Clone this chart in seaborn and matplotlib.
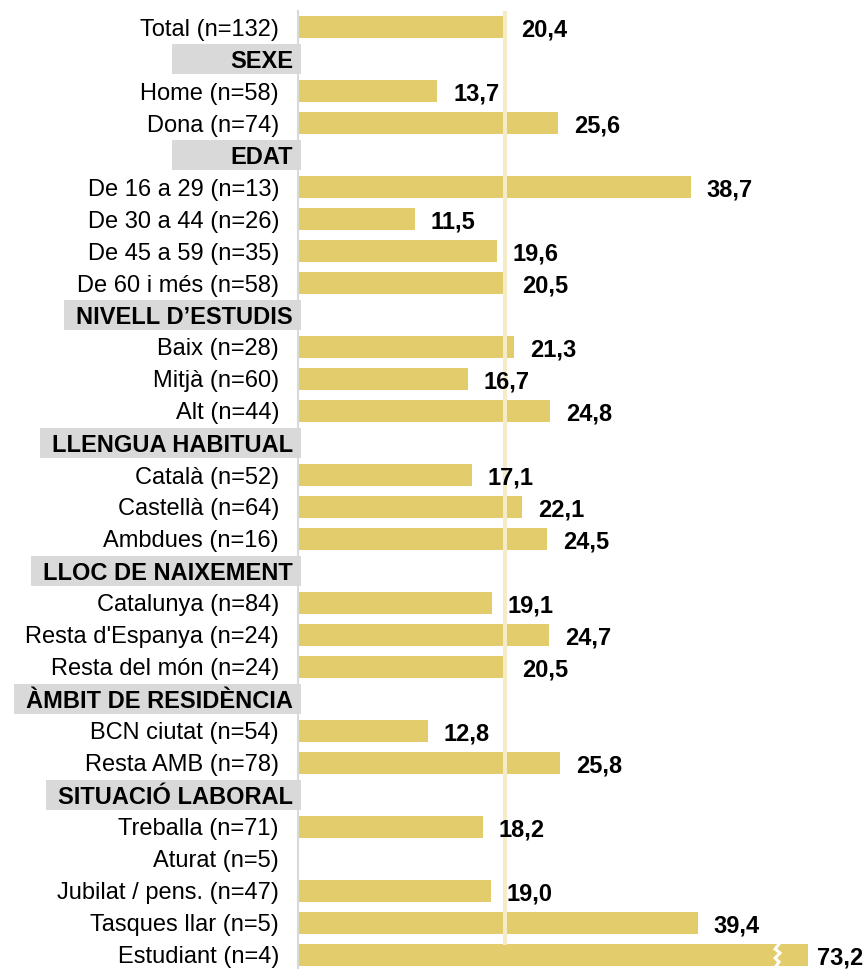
import numpy as np
import pandas as pd
import matplotlib
matplotlib.use("Agg")
import matplotlib.pyplot as plt
import matplotlib.transforms as mtransforms
from matplotlib.patches import Rectangle
import seaborn as sns

# ---------------- data ----------------
labels = [
    "Total (n=132)",
    "SEXE", "Home (n=58)", "Dona (n=74)",
    "EDAT", "De 16 a 29 (n=13)", "De 30 a 44 (n=26)", "De 45 a 59 (n=35)", "De 60 i més (n=58)",
    "NIVELL D’ESTUDIS", "Baix (n=28)", "Mitjà (n=60)", "Alt (n=44)",
    "LLENGUA HABITUAL", "Català (n=52)", "Castellà (n=64)", "Ambdues (n=16)",
    "LLOC DE NAIXEMENT", "Catalunya (n=84)", "Resta d'Espanya (n=24)", "Resta del món (n=24)",
    "ÀMBIT DE RESIDÈNCIA", "BCN ciutat (n=54)", "Resta AMB (n=78)",
    "SITUACIÓ LABORAL", "Treballa (n=71)", "Aturat (n=5)", "Jubilat / pens. (n=47)",
    "Tasques llar (n=5)", "Estudiant (n=4)",
]
values = [
    20.4,
    np.nan, 13.7, 25.6,
    np.nan, 38.7, 11.5, 19.6, 20.5,
    np.nan, 21.3, 16.7, 24.8,
    np.nan, 17.1, 22.1, 24.5,
    np.nan, 19.1, 24.7, 20.5,
    np.nan, 12.8, 25.8,
    np.nan, 18.2, np.nan, 19.0,
    39.4, 73.2,
]
headers = ["SEXE", "EDAT", "NIVELL D’ESTUDIS", "LLENGUA HABITUAL",
           "LLOC DE NAIXEMENT", "ÀMBIT DE RESIDÈNCIA", "SITUACIÓ LABORAL"]
reference_value = values[0]

# ---------------- style ----------------
W, H, DPI = 866, 969, 100
BAR_COLOR = "#E3CC6B"
REF_COLOR = "#F5EBC6"
GRAY = "#D9D9D9"
FONT = "Liberation Sans"
FS = 17
CAP = 50.2          # displayed length of broken bar
BREAK_AT = 47.2     # position of the break mark
XMAX = 55.96

plt.rcParams["font.family"] = [FONT, "DejaVu Sans"]

df = pd.DataFrame({"label": labels, "value": values})
df["shown"] = df["value"].clip(upper=CAP)

fig = plt.figure(figsize=(W / DPI, H / DPI), dpi=DPI)
ax_left_px, ax_top_px = 298, 11
ax = fig.add_axes([ax_left_px / W, 0, 1 - ax_left_px / W, (H - ax_top_px) / H])
ax.set_facecolor("none")

sns.barplot(data=df, x="shown", y="label", order=labels, orient="h",
            color=BAR_COLOR, saturation=1, width=0.69, errorbar=None, ax=ax, zorder=1)

ax.set_xlim(0, XMAX)
row_px = 32.0
ax.set_ylim(-0.5 + (H - ax_top_px) / row_px, -0.5)
ax.set_xlabel("")
ax.set_ylabel("")
ax.set_xticks([])
ax.set_yticks([])
for s in ["top", "right", "bottom"]:
    ax.spines[s].set_visible(False)
ax.spines["left"].set_color(GRAY)
ax.spines["left"].set_linewidth(1.5)

# reference line at total value
ax.vlines(reference_value, -0.5, 28.7, color=REF_COLOR, lw=2.9, zorder=3)

blend = mtransforms.blended_transform_factory(ax.transAxes, ax.transData)
lab_tr = mtransforms.offset_copy(blend, fig=fig, x=-19, y=0, units="dots")
hdr_tr = mtransforms.offset_copy(blend, fig=fig, x=-5, y=0, units="dots")

header_texts = []
for i, (lab, v) in enumerate(zip(labels, values)):
    if lab in headers:
        t = ax.text(0, i, lab, transform=hdr_tr, ha="right", va="center_baseline",
                    fontsize=FS, fontweight="bold", zorder=6, clip_on=False)
        header_texts.append((i, t))
    else:
        ax.text(0, i, lab, transform=lab_tr, ha="right", va="center_baseline",
                fontsize=FS, zorder=6, clip_on=False)
        if not np.isnan(v):
            shown = min(v, CAP)
            off = 9 if v > CAP else 16
            vt = mtransforms.offset_copy(ax.transData, fig=fig, x=off, y=0, units="dots")
            ax.text(shown, i, f"{v:.1f}".replace(".", ","), transform=vt,
                    ha="left", va="center_baseline", fontsize=FS, fontweight="bold",
                    zorder=6, clip_on=False)
            if v > CAP:
                px = XMAX / (W - ax_left_px)
                zx = np.array([2, -2, 3, -2, 2, -1]) * px + BREAK_AT
                zy = np.array([-11, -6, -2, 3, 7, 11]) / row_px + i
                ax.plot(zx, zy, color="white", lw=2.2, zorder=4, solid_joinstyle="miter")

# gray header boxes
fig.canvas.draw()
renderer = fig.canvas.get_renderer()
ax_w_px = W - ax_left_px
box_right_px = 301
min_w_px = 129
for i, t in header_texts:
    bb = t.get_window_extent(renderer)
    left_px = min(bb.x0 - 12, box_right_px - min_w_px)
    x0 = (left_px - ax_left_px) / ax_w_px
    x1 = (box_right_px - ax_left_px) / ax_w_px
    ax.add_patch(Rectangle((x0, i - 0.46), x1 - x0, 0.92, transform=blend,
                           facecolor=GRAY, edgecolor="none", zorder=5, clip_on=False))

fig.savefig("out.png", dpi=DPI)
